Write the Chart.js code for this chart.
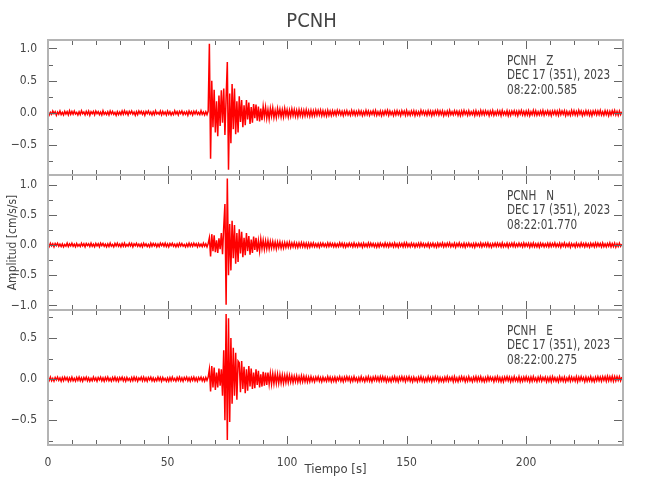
<!DOCTYPE html>
<html>
<head>
<meta charset="utf-8">
<title>PCNH</title>
<script src="https://cdn.jsdelivr.net/npm/chart.js@4.4.1/dist/chart.umd.min.js"></script>
<style>
  body { margin: 0; background: #fff; }
</style>
</head>
<body>
<canvas id="seis" width="650" height="500"></canvas>
<script>
// station / header info
const station = 'PCNH';
const components = ['Z', 'N', 'E'];
const dateLabel = 'DEC 17 (351), 2023';
const startTimes = ['08:22:00.585', '08:22:01.770', '08:22:00.275'];
const xTickLabels = [0, 50, 100, 150, 200];

// sample interval of the traces (s), one row = 10 s
const dt = 0.5;

// Z component, cm/s/s
const accZ = [
  .02,-.03,.01,-.02,.03, -.01,.02,-.035,.015,-.02, .03,-.025,.01,-.03,.025, -.015,.02,-.03,.035,-.02,
  .025,-.02,.03,-.015,.01, -.03,.02,-.025,.035,-.01, .015,-.03,.025,-.02,.03, -.035,.02,-.01,.025,-.03,
  .03,-.01,.02,-.025,.015, -.03,.035,-.02,.01,-.025, .02,-.03,.03,-.015,.025, -.02,.01,-.035,.02,-.025,
  .015,-.025,.03,-.02,.035, -.015,.02,-.03,.025,-.01, .03,-.02,.015,-.035,.02, -.025,.03,-.01,.025,-.02,
  .02,-.035,.025,-.01,.03, -.02,.015,-.03,.02,-.025, .035,-.015,.01,-.02,.03, -.03,.025,-.02,.015,-.03,
  .03,-.02,.02,-.03,.01, -.025,.035,-.015,.02,-.03, .025,-.01,.03,-.025,.015, -.02,.02,-.035,.03,-.015,
  .02,-.03,.025,-.015,.03, -.02,.01,-.025,.035,-.02, .015,-.03,.02,-.025,.03, 1.07,-.71,.5,-.22,.36,
  -.3,.18,-.36,.27,-.2, .35,-.15,.38,-.34,.24, .79,-.88,.3,-.47,.45, -.25,.38,-.33,.18,-.3,
  .26,-.14,.2,-.22,.12, -.19,.2,-.1,.16,-.17, .09,-.15,.14,-.08,.13, -.12,.1,-.13,.07,-.11,
  .1,-.06,.09,-.08,.05, -.09,.07,-.05,.08,-.07, .04,-.07,.07,-.04,.06, -.06,.05,-.06,.07,-.04,
  .05,-.06,.045,-.05,.06, -.04,.05,-.05,.04,-.055, .05,-.04,.045,-.05,.04, -.045,.05,-.04,.035,-.05,
  .04,-.045,.035,-.04,.045, -.035,.04,-.03,.045,-.04, .035,-.04,.03,-.045,.04, -.035,.03,-.04,.035,-.03,
  .03,-.035,.04,-.02,.035, -.03,.025,-.04,.03,-.025, .035,-.03,.02,-.035,.04, -.025,.03,-.035,.025,-.03,
  .035,-.025,.03,-.04,.02, -.03,.04,-.025,.03,-.035, .025,-.02,.035,-.03,.04, -.035,.02,-.03,.03,-.04,
  .025,-.03,.035,-.02,.04, -.035,.03,-.025,.02,-.04, .03,-.03,.035,-.025,.025, -.04,.035,-.02,.03,-.035,
  .04,-.03,.02,-.035,.03, -.025,.035,-.04,.025,-.03, .02,-.035,.04,-.02,.03, -.03,.025,-.035,.035,-.025,
  .03,-.04,.025,-.03,.035, -.02,.04,-.03,.03,-.025, .035,-.04,.02,-.03,.03, -.035,.04,-.025,.02,-.03,
  .035,-.02,.03,-.035,.025, -.04,.03,-.03,.04,-.02, .025,-.035,.035,-.03,.02, -.025,.03,-.04,.035,-.03,
  .02,-.035,.04,-.025,.03, -.03,.035,-.02,.025,-.04, .03,-.025,.04,-.035,.02, -.03,.035,-.025,.03,-.04,
  .04,-.025,.02,-.03,.035, -.04,.025,-.035,.03,-.02, .035,-.03,.025,-.04,.03, -.02,.04,-.03,.025,-.035,
  .03,-.03,.035,-.04,.02, -.025,.04,-.03,.035,-.035, .02,-.03,.03,-.025,.04, -.035,.025,-.02,.035,-.03,
  .025,-.04,.03,-.02,.035, -.03,.03,-.035,.04,-.025, .03,-.02,.035,-.04,.025, -.03,.02,-.035,.04,-.025,
  .035,-.03,.025,-.035,.04, -.02,.03,-.04,.02,-.03, .035,-.025,.03,-.035,.025, -.04,.03,-.02,.035,-.03,
  .03,-.025,.04,-.03,.02, -.035,.035,-.025,.03,-.04, .025,-.03,.035,-.02,.04, -.03,.025,-.035,.03,-.025,
  .02
];

// N component, cm/s/s
const accN = [
  .02,-.025,.03,-.015,.02, -.03,.025,-.01,.03,-.02, .015,-.025,.02,-.03,.01, -.02,.03,-.025,.02,-.015,
  .03,-.02,.015,-.03,.025, -.02,.01,-.025,.03,-.015, .02,-.03,.025,-.01,.02, -.025,.03,-.02,.015,-.03,
  .025,-.015,.02,-.03,.03, -.01,.025,-.02,.015,-.03, .02,-.025,.03,-.02,.01, -.03,.025,-.015,.03,-.02,
  .015,-.03,.025,-.02,.03, -.025,.01,-.02,.03,-.015, .025,-.03,.02,-.01,.03, -.02,.015,-.025,.02,-.03,
  .03,-.015,.02,-.025,.01, -.03,.03,-.02,.025,-.015, .02,-.03,.015,-.025,.03, -.01,.025,-.02,.03,-.025,
  .02,-.03,.025,-.01,.03, -.02,.015,-.03,.02,-.025, .03,-.015,.025,-.02,.01, -.03,.02,-.025,.03,-.02,
  .025,-.02,.03,-.015,.02, -.03,.025,-.02,.015,-.025, .03,-.02,.02,-.03,.025, .12,-.19,.18,-.1,.16,
  -.12,.08,-.13,.11,-.07, .2,-.15,.3,.68,-.99, 1.1,-.5,.35,-.42,.4, -.22,.33,-.31,.2,-.28,
  .26,-.14,.22,-.2,.12, -.17,.2,-.1,.15,-.16, .09,-.13,.14,-.08,.12, -.11,.07,-.1,.1,-.06,
  .08,-.07,.07,-.06,.07, -.06,.06,-.05,.06,-.05, .05,-.06,.05,-.04,.05, -.05,.04,-.05,.04,-.04,
  .04,-.035,.045,-.04,.035, -.03,.04,-.035,.03,-.04, .035,-.03,.04,-.03,.035, -.035,.03,-.04,.03,-.035,
  .03,-.025,.035,-.03,.02, -.03,.025,-.035,.03,-.02, .03,-.025,.02,-.03,.035, -.025,.03,-.02,.025,-.03,
  .025,-.03,.02,-.025,.035, -.02,.03,-.03,.025,-.035, .02,-.025,.03,-.02,.025, -.03,.035,-.025,.02,-.03,
  .03,-.02,.025,-.035,.03, -.025,.02,-.03,.035,-.025, .03,-.02,.025,-.03,.02, -.035,.025,-.03,.03,-.02,
  .02,-.03,.035,-.025,.025, -.03,.03,-.02,.025,-.03, .035,-.025,.02,-.035,.03, -.02,.025,-.03,.035,-.025,
  .035,-.025,.02,-.03,.03, -.02,.025,-.035,.02,-.025, .03,-.03,.035,-.02,.025, -.03,.02,-.025,.03,-.035,
  .025,-.02,.03,-.03,.02, -.035,.03,-.025,.025,-.02, .035,-.03,.025,-.025,.03, -.02,.035,-.03,.02,-.025,
  .03,-.035,.025,-.02,.035, -.025,.02,-.03,.03,-.035, .025,-.02,.03,-.025,.02, -.03,.025,-.035,.03,-.02,
  .02,-.025,.035,-.03,.025, -.02,.03,-.025,.035,-.03, .02,-.035,.025,-.02,.03, -.025,.03,-.02,.025,-.03,
  .035,-.03,.02,-.025,.03, -.035,.025,-.02,.03,-.025, .035,-.03,.02,-.025,.03, -.02,.025,-.03,.035,-.025,
  .025,-.02,.03,-.035,.025, -.025,.035,-.03,.02,-.03, .025,-.035,.03,-.02,.025, -.03,.02,-.025,.03,-.03,
  .03,-.025,.025,-.02,.035, -.03,.02,-.025,.03,-.035, .025,-.02,.035,-.03,.02, -.025,.03,-.035,.025,-.02,
  .02,-.035,.03,-.025,.02, -.03,.035,-.02,.025,-.03, .03,-.025,.02,-.035,.03, -.02,.025,-.03,.035,-.025,
  .03,-.02,.025,-.03,.035, -.025,.02,-.03,.025,-.02, .035,-.03,.025,-.025,.03, -.035,.02,-.025,.03,-.02,
  .015
];

// E component, cm/s/s
const accE = [
  .02,-.015,.025,-.02,.01, -.025,.02,-.01,.025,-.015, .015,-.025,.02,-.02,.025, -.01,.02,-.025,.015,-.02,
  .025,-.02,.01,-.025,.02, -.015,.025,-.02,.015,-.025, .02,-.01,.025,-.02,.015, -.025,.01,-.02,.025,-.015,
  .015,-.025,.02,-.01,.025, -.02,.015,-.025,.02,-.015, .025,-.02,.01,-.025,.02, -.015,.025,-.02,.015,-.025,
  .02,-.01,.025,-.02,.015, -.025,.02,-.015,.01,-.025, .02,-.02,.025,-.015,.02, -.025,.015,-.01,.025,-.02,
  .025,-.02,.015,-.025,.02, -.01,.025,-.02,.015,-.025, .01,-.02,.025,-.015,.02, -.025,.02,-.015,.01,-.025,
  .015,-.025,.02,-.02,.025, -.015,.01,-.025,.02,-.015, .025,-.02,.015,-.025,.02, -.01,.025,-.02,.015,-.025,
  .02,-.015,.025,-.02,.015, -.025,.02,-.01,.025,-.02, .015,-.025,.02,-.015,.025, .12,-.15,.16,-.1,.14,
  -.13,.08,-.1,.13,-.08, .12,-.2,.35,-.5,.79, -.74,.74,-.52,.5,-.3, .38,-.2,.32,-.25,.22,
  .2,-.16,.22,-.12,.15, -.17,.12,-.14,.16,-.09, .13,-.12,.08,-.11,.12, -.07,.1,-.1,.06,-.09,
  .09,-.08,.08,-.07,.08, -.06,.07,-.06,.065,-.055, .06,-.05,.06,-.05,.055, -.045,.05,-.05,.045,-.04,
  .05,-.04,.045,-.035,.04, -.04,.035,-.03,.04,-.035, .03,-.035,.04,-.03,.035, -.03,.03,-.035,.025,-.03,
  .03,-.025,.02,-.03,.025, -.015,.03,-.025,.02,-.03, .025,-.02,.015,-.025,.03, -.02,.025,-.03,.02,-.025,
  .025,-.03,.02,-.015,.03, -.025,.02,-.03,.025,-.02, .03,-.015,.025,-.03,.02, -.025,.03,-.02,.015,-.03,
  .02,-.025,.03,-.02,.015, -.03,.025,-.02,.03,-.025, .02,-.03,.025,-.015,.03, -.02,.025,-.025,.03,-.02,
  .03,-.02,.025,-.03,.02, -.025,.015,-.03,.025,-.02, .03,-.025,.02,-.03,.025, -.015,.03,-.02,.025,-.03,
  .025,-.015,.03,-.025,.02, -.03,.025,-.02,.015,-.03, .025,-.02,.03,-.025,.02, -.03,.015,-.025,.03,-.02,
  .02,-.03,.025,-.02,.03, -.015,.025,-.03,.02,-.025, .015,-.03,.025,-.02,.03, -.025,.02,-.015,.025,-.03,
  .03,-.025,.015,-.03,.025, -.02,.03,-.015,.025,-.03, .02,-.025,.03,-.02,.015, -.03,.025,-.02,.03,-.025,
  .025,-.02,.03,-.025,.015, -.03,.02,-.025,.03,-.02, .025,-.015,.02,-.03,.025, -.02,.03,-.025,.02,-.03,
  .02,-.03,.025,-.015,.03, -.02,.025,-.03,.02,-.025, .03,-.02,.015,-.025,.03, -.03,.02,-.025,.025,-.02,
  .03,-.02,.02,-.03,.025, -.025,.03,-.02,.015,-.03, .025,-.02,.03,-.025,.02, -.015,.025,-.03,.02,-.025,
  .025,-.03,.03,-.02,.02, -.025,.015,-.03,.03,-.02, .02,-.025,.025,-.03,.015, -.02,.03,-.025,.025,-.02,
  .02,-.025,.03,-.03,.025, -.02,.03,-.015,.02,-.03, .025,-.025,.02,-.02,.03, -.025,.015,-.03,.025,-.02,
  .03,-.02,.025,-.025,.03, -.015,.03,-.025,.035,-.02, .03,-.02,.035,-.025,.03, -.02,.03,-.015,.03,-.02,
  .025
];

const FONT = "'DejaVu Sans Condensed', 'DejaVu Sans', sans-serif";
const INK = '#444';
Chart.defaults.font.family = FONT;
Chart.defaults.color = INK;

const toPoints = arr => arr.map((v, i) => ({ x: i * dt, y: v }));
const isHalf = v => Math.abs(v * 2 - Math.round(v * 2)) < 1e-6;
const fmt = v => (Math.abs(v) < 1e-9 ? 0 : v).toFixed(1).replace('-', '\u2212');

function yAxis(min, max, title) {
  return {
    type: 'linear',
    position: 'left',
    stack: 'panels',
    stackWeight: 1,
    min: min,
    max: max,
    grid: { display: false },
    border: { display: false },
    ticks: {
      stepSize: 0.25,
      includeBounds: false,
      autoSkip: false,
      padding: 3,
      font: { size: 12 },
      callback: v => isHalf(v) ? fmt(v) : ''
    },
    title: title
      ? { display: true, text: title, font: { size: 12 }, padding: { top: 6, bottom: 0 } }
      : { display: false },
    afterFit(s) { s.width = 48; }
  };
}

// frame around each panel, inward ticks, station header text
const panelFrame = {
  id: 'panelFrame',
  afterDatasetsDraw(chart) {
    const { ctx, chartArea: a, scales } = chart;
    const xs = scales.x;
    ctx.save();
    ['yZ', 'yN', 'yE'].forEach((id, k) => {
      const ys = scales[id];
      const top = ys.top, bottom = ys.bottom;
      ctx.strokeStyle = '#666';
      ctx.lineWidth = 1;
      ctx.beginPath();
      xs.ticks.forEach(t => {
        const px = Math.round(xs.getPixelForValue(t.value)) + 0.5;
        const len = t.value % 50 === 0 ? 9 : 5;
        ctx.moveTo(px, top); ctx.lineTo(px, top + len);
        ctx.moveTo(px, bottom); ctx.lineTo(px, bottom - len);
      });
      ys.ticks.forEach(t => {
        const py = Math.round(ys.getPixelForValue(t.value)) + 0.5;
        const len = isHalf(t.value) ? 9 : 5;
        ctx.moveTo(a.left, py); ctx.lineTo(a.left + len, py);
        ctx.moveTo(a.right, py); ctx.lineTo(a.right - len, py);
      });
      ctx.stroke();

      ctx.strokeStyle = '#b4b4b4';
      ctx.lineWidth = 2;
      ctx.strokeRect(a.left, top, a.right - a.left, bottom - top);

      // header lines, squeezed a little like the plotting font
      ctx.fillStyle = INK;
      ctx.font = '14px ' + FONT;
      ctx.textAlign = 'left';
      ctx.textBaseline = 'middle';
      const lines = [station + '   ' + components[k], dateLabel, startTimes[k]];
      lines.forEach((s, j) => {
        ctx.save();
        ctx.translate(a.right - 116, top + 21 + j * 14.5);
        ctx.scale(0.83, 1);
        ctx.fillText(s, 0, 0);
        ctx.restore();
      });
    });
    ctx.restore();
  }
};

const trace = (arr, axis) => ({
  data: toPoints(arr),
  yAxisID: axis,
  borderColor: '#ff0000',
  borderWidth: 1.5,
  pointRadius: 0,
  tension: 0,
  fill: false
});

new Chart(document.getElementById('seis').getContext('2d'), {
  type: 'line',
  data: {
    datasets: [trace(accZ, 'yZ'), trace(accN, 'yN'), trace(accE, 'yE')]
  },
  options: {
    responsive: false,
    animation: false,
    parsing: false,
    layout: { padding: { left: 0, right: 27, top: 0, bottom: 21 } },
    plugins: {
      legend: { display: false },
      tooltip: { enabled: false },
      title: {
        display: true,
        text: station,
        color: INK,
        font: { size: 20, weight: 'normal' },
        padding: { top: 10, bottom: 6 }
      }
    },
    scales: {
      x: {
        type: 'linear',
        min: 0,
        max: 240.5,
        grid: { display: false },
        border: { display: false },
        ticks: {
          stepSize: 10,
          includeBounds: false,
          autoSkip: false,
          maxRotation: 0,
          padding: 3,
          font: { size: 12 },
          callback: v => xTickLabels.includes(v) ? String(v) : ''
        },
        title: { display: true, text: 'Tiempo [s]', font: { size: 13 }, padding: { top: 0, bottom: 2 } },
        afterFit(s) { s.height = 34; }
      },
      // stacked bottom-up: E, N, Z
      yE: yAxis(-0.80, 0.84),
      yN: yAxis(-1.076, 1.16, 'Amplitud [cm/s/s]'),
      yZ: yAxis(-0.96, 1.13)
    }
  },
  plugins: [panelFrame]
});
</script>
</body>
</html>
